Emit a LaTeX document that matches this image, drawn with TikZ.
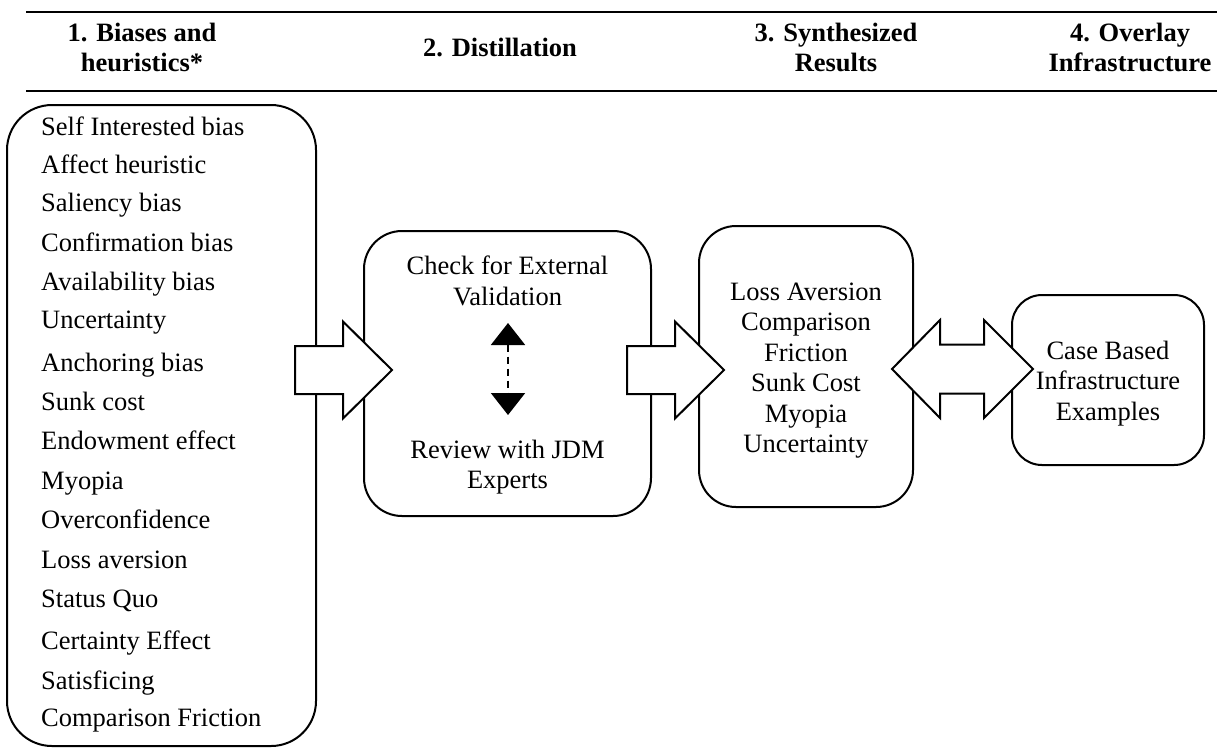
\documentclass[tikz,border=0pt]{standalone}
\usepackage{fontspec}
\setmainfont{Liberation Serif}
\usetikzlibrary{arrows.meta}
\begin{document}
\begin{tikzpicture}[x=1pt,y=-1pt,
  box/.style={draw, line width=2pt, rounded corners=#1, inner sep=0pt},
  box/.default=38pt,
  txt/.style={font=\fontsize{26.5}{30.5}\selectfont, inner sep=0pt, text height=19pt, text depth=6pt, align=center},
  lst/.style={txt, anchor=west, align=left},
  hdr/.style={txt, font=\bfseries\fontsize{26.5}{30}\selectfont},
  rule/.style={line width=2.5pt},
  rarrow/.pic={\draw[line width=2pt, fill=white, line join=miter]
     (0,-24) -- (48,-24) -- (48,-48.5) -- (97,0) -- (48,48.5) -- (48,24) -- (0,24) -- cycle;},
  darrow/.pic={\draw[line width=2pt, fill=white, line join=miter]
     (0,0) -- (48,-49) -- (48,-24.5) -- (92,-24.5) -- (92,-49) -- (141,0)
     -- (92,49) -- (92,24.5) -- (48,24.5) -- (48,49) -- cycle;}
]
\useasboundingbox (0,0) rectangle (1217,748);

% header rules
\coordinate (r1a) at (26,12);  \coordinate (r1b) at (1217,12);
\coordinate (r2a) at (26,91);  \coordinate (r2b) at (1217,91);
\draw[rule] (r1a) -- (r1b);
\draw[rule] (r2a) -- (r2b);

% headers
\node[hdr, text height=49pt] (h1) at (142,49.5) {1. Biases and\\heuristics*};
\node[hdr] (h2) at (500,49.5) {2. Distillation};
\node[hdr, text height=49pt] (h3) at (836,49.5) {3. Synthesized\\Results};
\node[hdr, text height=49pt] (h4) at (1130,49.5) {4. Overlay\\Infrastructure};

% boxes
\node[box=45pt, minimum width=309pt, minimum height=641pt] (b1) at (161.5,425.5) {};
\node[box=38pt, minimum width=287pt, minimum height=285pt] (b2) at (507.5,373.5) {};
\node[box=37pt, minimum width=214pt, minimum height=281pt] (b3) at (806,366.5) {};
\node[box=30pt, minimum width=192pt, minimum height=170pt] (b4) at (1108,380) {};

% list of biases
\node[lst] (l1)  at (41,128.5) {Self Interested bias};
\node[lst] (l2)  at (41,166.5) {Affect heuristic};
\node[lst] (l3)  at (41,204.5) {Saliency bias};
\node[lst] (l4)  at (41,244.5) {Confirmation bias};
\node[lst] (l5)  at (41,284)   {Availability bias};
\node[lst] (l6)  at (41,321.5) {Uncertainty};
\node[lst] (l7)  at (41,364.5) {Anchoring bias};
\node[lst] (l8)  at (41,403.5) {Sunk cost};
\node[lst] (l9)  at (41,443)   {Endowment effect};
\node[lst] (l10) at (41,482.5) {Myopia};
\node[lst] (l11) at (41,522)   {Overconfidence};
\node[lst] (l12) at (41,561.5) {Loss aversion};
\node[lst] (l13) at (41,601)   {Status Quo};
\node[lst] (l14) at (41,642.5) {Certainty Effect};
\node[lst] (l15) at (41,682.5) {Satisficing};
\node[lst] (l16) at (41,719.5) {Comparison Friction};

% box texts
\node[txt, text height=49.5pt] (t2a) at (507.5,283.5) {Check for External\\Validation};
\node[txt, text height=49.5pt] (t2b) at (507.5,467) {Review with JDM\\Experts};
\node[txt, text height=171.5pt] (t3) at (806,370) {Loss Aversion\\Comparison\\Friction\\Sunk Cost\\Myopia\\Uncertainty};
\node[txt, text height=80pt] (t4) at (1108,383) {Case Based\\Infrastructure\\Examples};

% dashed double arrow inside box 2
\coordinate (v1) at (508,323);
\coordinate (v2) at (508,415);
\draw[line width=2pt, dash pattern=on 7pt off 5pt,
  {Triangle[width=34pt,length=22pt]}-{Triangle[width=34pt,length=22pt]}] (v1) -- (v2);

% block arrows
\coordinate (a1) at (295,370);
\coordinate (a2) at (627,370);
\coordinate (a3) at (892,369);
\pic at (a1) {rarrow};
\pic at (a2) {rarrow};
\pic at (a3) {darrow};
\end{tikzpicture}
\end{document}
